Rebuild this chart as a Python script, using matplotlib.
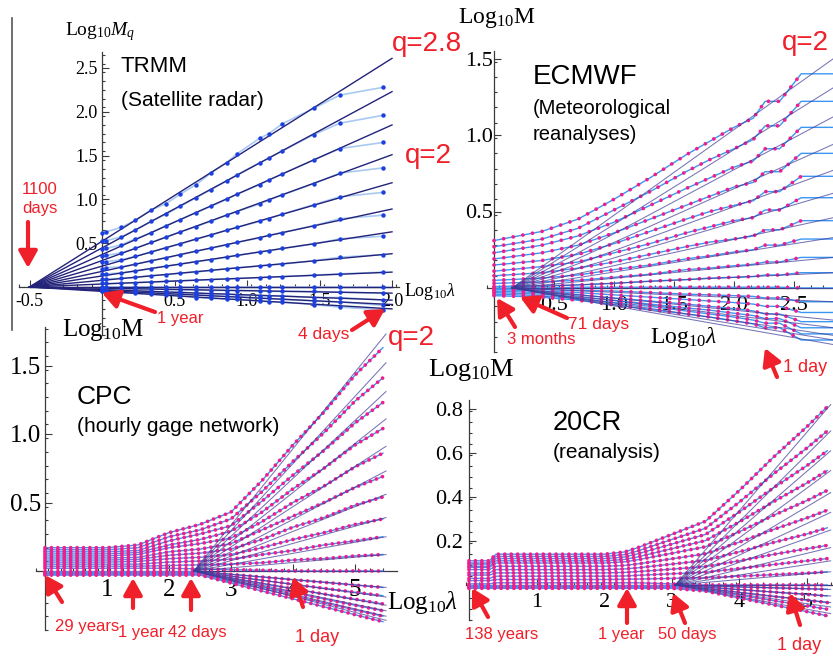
import numpy as np
import matplotlib
matplotlib.use('Agg')
import matplotlib.pyplot as plt
from matplotlib.ticker import FixedLocator

plt.rcParams['mathtext.fontset'] = 'custom'
plt.rcParams['mathtext.rm'] = 'Liberation Serif'
plt.rcParams['mathtext.it'] = 'Liberation Serif:italic'
plt.rcParams['axes.unicode_minus'] = False

# ---------------- data ----------------
# TRMM: trace moments, q = 2.8 ... 0.2 (rows), log10 lambda (columns)
trmm_x = [0.0, 0.03, 0.13, 0.23, 0.34, 0.44, 0.54, 0.65, 0.75, 0.86, 0.93, 1.09, 1.15, 1.24, 1.46, 1.64, 1.94]
trmm_rows = [
    [0.62, 0.63, 0.68, 0.76, 0.88, 0.95, 1.06, 1.17, 1.30, 1.42, 1.52, 1.70, 1.75, 1.86, 2.04, 2.19, 2.28],
    [0.52, 0.53, 0.57, 0.65, 0.75, 0.83, 0.92, 1.02, 1.11, 1.21, 1.28, 1.42, 1.47, 1.55, 1.74, 1.87, 1.96],
    [0.43, 0.44, 0.48, 0.55, 0.62, 0.70, 0.77, 0.85, 0.92, 1.00, 1.06, 1.17, 1.22, 1.29, 1.45, 1.58, 1.65],
    [0.35, 0.36, 0.39, 0.44, 0.51, 0.57, 0.63, 0.69, 0.75, 0.82, 0.86, 0.95, 0.99, 1.05, 1.18, 1.30, 1.36],
    [0.28, 0.29, 0.31, 0.35, 0.40, 0.45, 0.49, 0.55, 0.59, 0.65, 0.68, 0.75, 0.78, 0.83, 0.94, 1.03, 1.08],
    [0.21, 0.22, 0.23, 0.26, 0.30, 0.33, 0.37, 0.41, 0.44, 0.48, 0.51, 0.56, 0.59, 0.62, 0.70, 0.78, 0.82],
    [0.15, 0.15, 0.16, 0.18, 0.21, 0.24, 0.26, 0.29, 0.31, 0.34, 0.36, 0.40, 0.41, 0.44, 0.49, 0.55, 0.58],
    [0.09, 0.09, 0.10, 0.11, 0.13, 0.14, 0.16, 0.17, 0.19, 0.21, 0.22, 0.24, 0.25, 0.26, 0.30, 0.34, 0.37],
    [0.04, 0.04, 0.045, 0.05, 0.057, 0.064, 0.071, 0.078, 0.085, 0.092, 0.097, 0.108, 0.112, 0.118, 0.135, 0.15, 0.17],
    [0.0, 0.0, 0.0, 0.0, 0.0, 0.0, 0.0, 0.0, 0.0, 0.0, 0.0, 0.0, 0.0, 0.0, 0.0, 0.0, 0.0],
    [-0.01, -0.01, -0.02, -0.02, -0.02, -0.03, -0.03, -0.03, -0.04, -0.04, -0.04, -0.04, -0.05, -0.05, -0.05, -0.06, -0.07],
    [-0.03, -0.03, -0.04, -0.04, -0.05, -0.06, -0.06, -0.07, -0.08, -0.08, -0.09, -0.10, -0.10, -0.10, -0.12, -0.12, -0.15],
    [-0.04, -0.04, -0.05, -0.06, -0.07, -0.08, -0.08, -0.09, -0.10, -0.11, -0.11, -0.13, -0.13, -0.14, -0.16, -0.17, -0.21],
    [-0.05, -0.05, -0.06, -0.07, -0.08, -0.09, -0.10, -0.12, -0.13, -0.14, -0.14, -0.16, -0.17, -0.17, -0.20, -0.23, -0.26],
]
trmm_fit_x = [-0.5, 2.0]
trmm_fit_end = [2.61, 2.23, 1.85, 1.51, 1.19, 0.89, 0.63, 0.38, 0.17, 0.0, -0.07, -0.15, -0.20, -0.25]

# ECMWF
ecm_x = [0.0, 0.4, 0.7, 1.0, 1.3, 1.6, 1.8, 2.0, 2.16, 2.26, 2.38, 2.56, 2.83]
ecm_rows = [
    [0.31, 0.37, 0.45, 0.58, 0.72, 0.87, 0.96, 1.05, 1.11, 1.22, 1.22, 1.40, 1.40],
    [0.27, 0.32, 0.39, 0.51, 0.63, 0.76, 0.84, 0.91, 0.97, 1.06, 1.06, 1.22, 1.22],
    [0.23, 0.28, 0.34, 0.43, 0.54, 0.65, 0.72, 0.79, 0.83, 0.91, 0.91, 1.05, 1.05],
    [0.19, 0.23, 0.28, 0.36, 0.45, 0.54, 0.60, 0.66, 0.69, 0.76, 0.76, 0.88, 0.88],
    [0.15, 0.18, 0.22, 0.29, 0.37, 0.45, 0.50, 0.54, 0.57, 0.63, 0.63, 0.73, 0.73],
    [0.11, 0.14, 0.17, 0.23, 0.29, 0.36, 0.40, 0.44, 0.46, 0.51, 0.51, 0.59, 0.59],
    [0.08, 0.10, 0.13, 0.17, 0.22, 0.27, 0.30, 0.32, 0.34, 0.38, 0.38, 0.44, 0.44],
    [0.05, 0.065, 0.085, 0.12, 0.15, 0.19, 0.21, 0.235, 0.25, 0.28, 0.28, 0.32, 0.32],
    [0.03, 0.04, 0.05, 0.07, 0.09, 0.12, 0.13, 0.145, 0.155, 0.17, 0.17, 0.20, 0.20],
    [0.01, 0.015, 0.02, 0.03, 0.045, 0.055, 0.065, 0.07, 0.075, 0.085, 0.085, 0.10, 0.10],
    [0.0, 0.0, 0.005, 0.005, 0.005, 0.005, 0.005, 0.005, 0.005, 0.005, 0.005, 0.0, 0.0],
    [-0.005, -0.01, -0.015, -0.02, -0.03, -0.04, -0.045, -0.05, -0.055, -0.065, -0.065, -0.09, -0.09],
    [-0.01, -0.02, -0.03, -0.045, -0.06, -0.075, -0.085, -0.095, -0.105, -0.12, -0.12, -0.16, -0.16],
    [-0.02, -0.03, -0.045, -0.065, -0.085, -0.105, -0.12, -0.135, -0.15, -0.17, -0.17, -0.22, -0.22],
    [-0.03, -0.04, -0.06, -0.08, -0.105, -0.13, -0.145, -0.165, -0.18, -0.20, -0.20, -0.26, -0.26],
    [-0.04, -0.05, -0.07, -0.095, -0.12, -0.15, -0.17, -0.19, -0.21, -0.23, -0.23, -0.30, -0.30],
    [-0.05, -0.06, -0.08, -0.11, -0.14, -0.17, -0.19, -0.215, -0.235, -0.26, -0.26, -0.34, -0.34],
]
ecm_fit_x = [0.15, 2.83]
ecm_fit_end = [1.50, 1.31, 1.12, 0.94, 0.77, 0.62, 0.46, 0.33, 0.20, 0.10, 0.0,
               -0.09, -0.21, -0.26, -0.31, -0.34, -0.37]

# CPC
cpc_x = [0.0, 0.5, 1.0, 1.5, 2.0, 2.5, 3.0, 3.5, 4.0, 4.5, 5.0, 5.45]
cpc_rows = [
    [0.17, 0.17, 0.17, 0.19, 0.28, 0.34, 0.43, 0.66, 0.92, 1.16, 1.43, 1.63],
    [0.155, 0.155, 0.155, 0.17, 0.25, 0.30, 0.38, 0.58, 0.80, 1.01, 1.24, 1.41],
    [0.14, 0.14, 0.14, 0.15, 0.22, 0.27, 0.33, 0.51, 0.70, 0.88, 1.08, 1.23],
    [0.125, 0.125, 0.125, 0.135, 0.19, 0.23, 0.29, 0.43, 0.60, 0.75, 0.92, 1.04],
    [0.11, 0.11, 0.11, 0.12, 0.17, 0.20, 0.24, 0.36, 0.50, 0.62, 0.76, 0.86],
    [0.095, 0.095, 0.095, 0.10, 0.14, 0.16, 0.20, 0.30, 0.40, 0.50, 0.61, 0.69],
    [0.08, 0.08, 0.08, 0.085, 0.115, 0.13, 0.16, 0.23, 0.32, 0.39, 0.48, 0.54],
    [0.065, 0.065, 0.065, 0.07, 0.09, 0.10, 0.12, 0.17, 0.23, 0.28, 0.34, 0.38],
    [0.05, 0.05, 0.05, 0.05, 0.065, 0.073, 0.086, 0.12, 0.15, 0.19, 0.22, 0.25],
    [0.035, 0.035, 0.035, 0.035, 0.04, 0.045, 0.05, 0.06, 0.08, 0.09, 0.11, 0.12],
    [0.02, 0.02, 0.02, 0.02, 0.02, 0.015, 0.01, 0.005, 0.0, 0.0, 0.0, 0.0],
    [-0.005, -0.005, -0.005, -0.005, -0.005, -0.005, -0.025, -0.044, -0.064, -0.083, -0.103, -0.12],
    [-0.01, -0.01, -0.01, -0.01, -0.01, -0.01, -0.039, -0.068, -0.097, -0.126, -0.155, -0.18],
    [-0.015, -0.015, -0.015, -0.015, -0.015, -0.015, -0.053, -0.092, -0.13, -0.168, -0.206, -0.24],
    [-0.02, -0.02, -0.02, -0.02, -0.02, -0.02, -0.066, -0.112, -0.158, -0.204, -0.25, -0.29],
    [-0.025, -0.025, -0.025, -0.025, -0.025, -0.025, -0.077, -0.129, -0.18, -0.232, -0.284, -0.33],
    [-0.03, -0.03, -0.03, -0.03, -0.03, -0.03, -0.088, -0.146, -0.203, -0.261, -0.319, -0.37],
]
cpc_fit_x = [2.4, 5.5]
cpc_fit_end = [1.73, 1.52, 1.31, 1.11, 0.91, 0.73, 0.56, 0.39, 0.25, 0.12, 0.0,
               -0.12, -0.19, -0.25, -0.29, -0.33, -0.36]

# 20CR
cr_x = [0.0, 0.3, 0.4, 1.0, 1.5, 2.0, 2.3, 2.5, 3.0, 3.5, 4.0, 4.5, 5.0, 5.3]
cr_rows = [
    [0.11, 0.11, 0.14, 0.14, 0.14, 0.14, 0.15, 0.17, 0.23, 0.29, 0.43, 0.58, 0.72, 0.81],
    [0.10, 0.10, 0.13, 0.13, 0.13, 0.13, 0.138, 0.155, 0.207, 0.258, 0.377, 0.504, 0.623, 0.70],
    [0.095, 0.095, 0.12, 0.12, 0.12, 0.12, 0.127, 0.142, 0.186, 0.23, 0.332, 0.441, 0.543, 0.61],
    [0.085, 0.085, 0.11, 0.11, 0.11, 0.11, 0.116, 0.128, 0.165, 0.202, 0.287, 0.378, 0.464, 0.52],
    [0.08, 0.08, 0.10, 0.10, 0.10, 0.10, 0.105, 0.115, 0.144, 0.174, 0.242, 0.316, 0.384, 0.43],
    [0.07, 0.07, 0.085, 0.085, 0.085, 0.085, 0.089, 0.096, 0.119, 0.142, 0.195, 0.252, 0.305, 0.34],
    [0.055, 0.055, 0.07, 0.07, 0.07, 0.07, 0.073, 0.078, 0.095, 0.112, 0.151, 0.193, 0.232, 0.26],
    [0.045, 0.045, 0.055, 0.055, 0.055, 0.055, 0.057, 0.061, 0.072, 0.084, 0.11, 0.139, 0.165, 0.18],
    [0.03, 0.03, 0.04, 0.04, 0.04, 0.04, 0.041, 0.044, 0.051, 0.058, 0.075, 0.093, 0.11, 0.12],
    [0.02, 0.02, 0.025, 0.025, 0.025, 0.025, 0.026, 0.027, 0.03, 0.033, 0.04, 0.047, 0.054, 0.06],
    [0.005, 0.005, 0.01, 0.01, 0.01, 0.01, 0.01, 0.01, 0.005, 0.0, 0.0, 0.0, 0.0, 0.0],
    [-0.003, -0.003, -0.003, -0.003, -0.003, -0.003, -0.003, -0.003, -0.003, -0.005, -0.009, -0.013, -0.017, -0.02],
    [-0.006, -0.006, -0.006, -0.006, -0.006, -0.006, -0.006, -0.006, -0.006, -0.01, -0.021, -0.032, -0.043, -0.05],
    [-0.009, -0.009, -0.009, -0.009, -0.009, -0.009, -0.009, -0.009, -0.009, -0.016, -0.034, -0.052, -0.069, -0.08],
    [-0.012, -0.012, -0.012, -0.012, -0.012, -0.012, -0.012, -0.012, -0.012, -0.022, -0.046, -0.071, -0.095, -0.11],
    [-0.015, -0.015, -0.015, -0.015, -0.015, -0.015, -0.015, -0.015, -0.015, -0.028, -0.059, -0.09, -0.121, -0.14],
]
cr_fit_x = [3.05, 5.35]
cr_fit_end = [0.82, 0.70, 0.61, 0.52, 0.42, 0.33, 0.25, 0.17, 0.11, 0.06, 0.0,
              -0.02, -0.05, -0.08, -0.10, -0.13]

# ---------------- figure ----------------
W, H = 833, 657
fig = plt.figure(figsize=(W / 100, H / 100), dpi=100)

RED = '#f0202a'
MAG = '#ee1f8c'
BLUE = '#3a96f2'
NAVY = '#3a3a98'
AXC = '#3a3a3a'
SERIF = 'Liberation Serif'
SANS = 'Liberation Sans'


def make_panel(box, origin, scale, xb, yb, xt, yt, xmin_step, ymin_step,
               fs, xfmt, yfmt, xpad, ypad):
    left, top, right, bottom = box
    ox, oy = origin
    sx, sy = scale
    ax = fig.add_axes([left / W, 1 - bottom / H, (right - left) / W, (bottom - top) / H])
    ax.set_xlim((left - ox) / sx, (right - ox) / sx)
    ax.set_ylim((oy - bottom) / sy, (oy - top) / sy)
    ax.set_facecolor('none')
    for s in ['top', 'right']:
        ax.spines[s].set_visible(False)
    ax.spines['left'].set_position(('data', 0))
    ax.spines['bottom'].set_position(('data', 0))
    ax.spines['bottom'].set_bounds(*xb)
    ax.spines['left'].set_bounds(*yb)
    for s in ['left', 'bottom']:
        ax.spines[s].set_color(AXC)
        ax.spines[s].set_linewidth(0.9)
        ax.spines[s].set_zorder(1)
    ax.xaxis.set_major_locator(FixedLocator(xt))
    ax.yaxis.set_major_locator(FixedLocator(yt))
    ax.xaxis.set_minor_locator(FixedLocator(np.arange(xb[0], xb[1], xmin_step)))
    ax.yaxis.set_minor_locator(FixedLocator(np.arange(yb[0], yb[1], ymin_step)))
    ax.set_xticklabels([xfmt.format(v) for v in xt], fontfamily=SERIF, fontsize=fs)
    ax.set_yticklabels([yfmt.format(v) for v in yt], fontfamily=SERIF, fontsize=fs)
    ax.tick_params(which='both', direction='in', color=AXC, width=0.8)
    ax.tick_params(which='major', length=5)
    ax.tick_params(which='minor', length=2.5)
    ax.tick_params(axis='x', pad=xpad)
    ax.tick_params(axis='y', pad=ypad)
    return ax


def draw_dense(ax, xs, rows, fit_x, fit_end, gap, stop=None):
    for row in rows:
        ax.plot(xs, row, color=BLUE, lw=1.0, zorder=3)
    for row in rows:
        ax.plot(xs[:stop], row[:stop], color=MAG, lw=2.7, ls=(0, (0.01, gap)),
                dash_capstyle='round', zorder=4)
    for e in fit_end:
        ax.plot(fit_x, [0, e], color=NAVY, lw=0.75, alpha=0.7, zorder=5)


# TRMM
ax1 = make_panel((18, 48, 402, 336), (102, 287), (145, 87.6),
                 (-0.57, 2.05), (-0.55, 2.68),
                 [-0.5, 0.5, 1.0, 1.5, 2.0], [0.5, 1.0, 1.5, 2.0, 2.5],
                 0.1, 0.1, 13, '{:.1f}', '{:.1f}', 4, 3)
for row in trmm_rows:
    ax1.plot(trmm_x, row, color='#a9c9f2', lw=1.2, zorder=3)
for e in trmm_fit_end:
    ax1.plot(trmm_fit_x, [0, e], color='#23237a', lw=1.0, zorder=4)
for row in trmm_rows:
    ax1.plot(trmm_x, row, 'o', color='#1c3fe0', ms=3.2, mec='none', zorder=5)

# ECMWF
ax2 = make_panel((485, 45, 833, 356), (494, 288), (120, 153),
                 (-0.06, 2.83), (-0.42, 1.55),
                 [0.5, 1.0, 1.5, 2.0, 2.5], [0.5, 1.0, 1.5],
                 0.1, 0.1, 16, '{:.1f}', '{:.1f}', 6, 1)
draw_dense(ax2, ecm_x, ecm_rows, ecm_fit_x, ecm_fit_end, 2.6, stop=-1)

# CPC
ax3 = make_panel((30, 320, 395, 635), (45, 571), (62, 137),
                 (-0.15, 5.67), (-0.43, 1.78),
                 [1, 2, 3, 4, 5], [0.5, 1.0, 1.5],
                 0.2, 0.1, 18, '{:g}', '{:.1f}', 6, 3)
draw_dense(ax3, cpc_x, cpc_rows, cpc_fit_x, cpc_fit_end, 1.7)

# 20CR
ax4 = make_panel((462, 395, 833, 625), (469, 585), (67.6, 220),
                 (-0.05, 5.38), (-0.16, 0.84),
                 [1, 2, 3, 4, 5], [0.2, 0.4, 0.6, 0.8],
                 0.2, 0.05, 16, '{:g}', '{:.1f}', 6, 4)
draw_dense(ax4, cr_x, cr_rows, cr_fit_x, cr_fit_end, 1.7)

# ---------------- overlay for labels and arrows (pixel coordinates) ----------------
ov = fig.add_axes([0, 0, 1, 1], zorder=10)
ov.set_xlim(0, W)
ov.set_ylim(H, 0)
ov.axis('off')
ov.set_facecolor('none')

ov.plot([12, 12], [18, 330], color='#555555', lw=1.2)

# axis labels (serif)
axis_labels = [
    (65, 32, r'Log$_{10}M_q$', 14),
    (404, 291, r'Log$_{10}\lambda$', 13),
    (458, 18, r'Log$_{10}$M', 17),
    (650, 338, r'Log$_{10}\lambda$', 17),
    (62, 330, r'Log$_{10}$M', 18),
    (387, 602, r'Log$_{10}\lambda$', 18),
    (428, 370, r'Log$_{10}$M', 19),
]
for x, y, s, size in axis_labels:
    ov.text(x, y, s, fontfamily=SERIF, fontsize=size, ha='left', va='center')

# panel titles (sans)
titles = [
    (121, 67, 'TRMM', 16), (121, 100, '(Satellite radar)', 15),
    (533, 77, 'ECMWF', 20), (533, 108, '(Meteorological', 14.5), (533, 135, 'reanalyses)', 14.5),
    (77, 397, 'CPC', 19), (77, 427, '(hourly gage network)', 15),
    (553, 423, '20CR', 19.5), (553, 453, '(reanalysis)', 15),
]
for x, y, s, size in titles:
    ov.text(x, y, s, fontfamily=SANS, fontsize=size, ha='left', va='center')

# red annotations
red_texts = [
    (392, 44, 'q=2.8', 20), (405, 156, 'q=2', 20), (782, 43, 'q=2', 20), (388, 338, 'q=2', 20),
    (22, 189, '1100', 12), (22, 209, 'days', 12),
    (157, 318, '1 year', 12), (298, 335, '4 days', 12.5),
    (507, 340, '3 months', 12), (568, 325, '71 days', 12.5), (783, 367, '1 day', 13),
    (55, 627, '29 years', 12), (118, 633, '1 year', 12), (168, 633, '42 days', 12),
    (295, 638, '1 day', 13),
    (465, 635, '138 years', 12), (598, 635, '1 year', 12), (658, 635, '50 days', 12),
    (777, 645, '1 day', 13),
]
for x, y, s, size in red_texts:
    ov.text(x, y, s, fontfamily=SANS, fontsize=size, color=RED, ha='left', va='center')

arrows = [
    ((28, 222), (28, 268)), ((155, 312), (102, 293)), ((352, 330), (385, 309)),
    ((515, 327), (497, 298)), ((567, 318), (520, 297)), ((777, 377), (765, 348)),
    ((62, 602), (45, 575)), ((133, 608), (133, 578)), ((191, 610), (191, 578)),
    ((303, 607), (293, 577)),
    ((488, 617), (472, 588)), ((627, 623), (627, 588)), ((685, 623), (673, 593)),
    ((800, 625), (790, 593)),
]
for tail, head in arrows:
    ov.annotate('', xy=head, xytext=tail,
                arrowprops=dict(arrowstyle='-|>,head_length=0.5,head_width=0.28',
                                color=RED, lw=3.0, shrinkA=0, shrinkB=0, mutation_scale=20))

fig.savefig('out.png', dpi=100)
